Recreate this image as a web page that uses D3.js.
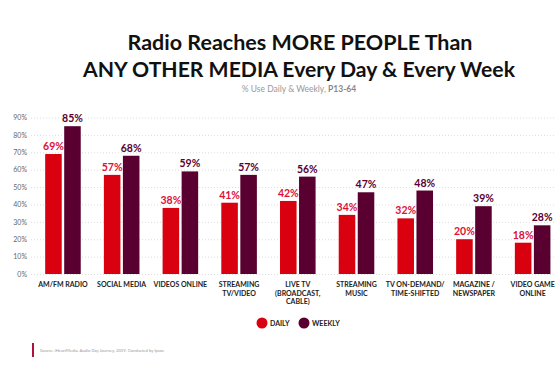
<!DOCTYPE html>
<html>
<head>
<meta charset="utf-8">
<script src="https://cdn.jsdelivr.net/npm/d3@7"></script>
<style>
  body { margin: 0; background: #fff; }
  svg { display: block; font-family: "Lato", "Open Sans", sans-serif; }
</style>
</head>
<body>
<script>
// chart data
var categories = ["AM/FM RADIO", "SOCIAL MEDIA", "VIDEOS ONLINE", "STREAMING TV/VIDEO",
  "LIVE TV (BROADCAST, CABLE)", "STREAMING MUSIC", "TV ON-DEMAND/ TIME-SHIFTED",
  "MAGAZINE / NEWSPAPER", "VIDEO GAME ONLINE"];
var labelLines = [["AM/FM RADIO"], ["SOCIAL MEDIA"], ["VIDEOS ONLINE"], ["STREAMING", "TV/VIDEO"],
  ["LIVE TV", "(BROADCAST,", "CABLE)"], ["STREAMING", "MUSIC"], ["TV ON-DEMAND/", "TIME-SHIFTED"],
  ["MAGAZINE /", "NEWSPAPER"], ["VIDEO GAME", "ONLINE"]];
var daily = [69, 57, 38, 41, 42, 34, 32, 20, 18];
var weekly = [85, 68, 59, 57, 56, 47, 48, 39, 28];
var series = ["DAILY", "WEEKLY"];
var yTicks = [0, 10, 20, 30, 40, 50, 60, 70, 80, 90];

var W = 560, H = 365;
var colors = {DAILY: "#d9000f", WEEKLY: "#5a0030"};
var labelColors = {DAILY: "#dc1038", WEEKLY: "#5a0030"};

var svg = d3.select("body").append("svg")
    .attr("width", W)
    .attr("height", H);

// title
svg.append("text")
    .attr("x", 300).attr("y", 50)
    .attr("text-anchor", "middle")
    .attr("font-size", 21).attr("font-weight", "bold").attr("fill", "#111")
    .attr("textLength", 345).attr("lengthAdjust", "spacingAndGlyphs")
    .text("Radio Reaches MORE PEOPLE Than");
svg.append("text")
    .attr("x", 299).attr("y", 77)
    .attr("text-anchor", "middle")
    .attr("font-size", 21).attr("font-weight", "bold").attr("fill", "#111")
    .attr("textLength", 432).attr("lengthAdjust", "spacingAndGlyphs")
    .text("ANY OTHER MEDIA Every Day & Every Week");

var sub = svg.append("text")
    .attr("x", 299).attr("y", 92)
    .attr("text-anchor", "middle")
    .attr("font-size", 8.5).attr("fill", "#999");
sub.append("tspan").text("% Use Daily & Weekly, ");
sub.append("tspan").attr("font-weight", "bold").attr("fill", "#888").text("P13-64");

// scales
var y = d3.scaleLinear().domain([0, 90]).range([274, 117.5]);
var x0 = d3.scaleBand().domain(categories).range([42.7, 552.9]).paddingInner(0.31).paddingOuter(0);
var x1 = d3.scaleBand().domain(series).range([0, x0.bandwidth()]).padding(0.13);

// grid and y axis
var yAxis = d3.axisLeft(y).tickValues(yTicks).tickSize(0).tickPadding(0)
    .tickFormat(function(d) { return d + "%"; });
var ga = svg.append("g").attr("transform", "translate(27,0)").call(yAxis);
ga.select(".domain").remove();
ga.selectAll("text").attr("font-size", 7).attr("fill", "#666").attr("font-family", "Lato, sans-serif");

svg.append("g").selectAll("line")
    .data(yTicks)
  .enter().append("line")
    .attr("x1", 31).attr("x2", 556)
    .attr("y1", function(d) { return y(d) + 0.5; })
    .attr("y2", function(d) { return y(d) + 0.5; })
    .attr("stroke", "#ddd")
    .attr("stroke-width", 1)
    .attr("stroke-dasharray", "1,2");

// bars
var rows = categories.map(function(c, i) {
  return {cat: c, vals: [{s: "DAILY", v: daily[i]}, {s: "WEEKLY", v: weekly[i]}]};
});

var group = svg.selectAll(".grp")
    .data(rows)
  .enter().append("g")
    .attr("class", "grp")
    .attr("transform", function(d) { return "translate(" + x0(d.cat) + ",0)"; });

group.selectAll("rect")
    .data(function(d) { return d.vals; })
  .enter().append("rect")
    .attr("x", function(d) { return x1(d.s); })
    .attr("y", function(d) { return y(d.v); })
    .attr("width", x1.bandwidth())
    .attr("height", function(d) { return y(0) - y(d.v); })
    .attr("fill", function(d) { return colors[d.s]; });

group.selectAll(".val")
    .data(function(d) { return d.vals; })
  .enter().append("text")
    .attr("class", "val")
    .attr("x", function(d) { return x1(d.s) + x1.bandwidth() / 2; })
    .attr("y", function(d) { return y(d.v) - 4; })
    .attr("text-anchor", "middle")
    .attr("font-size", 10.5).attr("font-weight", "bold")
    .attr("fill", function(d) { return labelColors[d.s]; })
    .text(function(d) { return d.v + "%"; });

// category labels
svg.selectAll(".cat")
    .data(categories)
  .enter().append("text")
    .attr("class", "cat")
    .attr("text-anchor", "middle")
    .attr("font-size", 7).attr("font-weight", "bold").attr("fill", "#222")
    .each(function(d, i) {
      var t = d3.select(this);
      labelLines[i].forEach(function(l, j) {
        t.append("tspan")
          .attr("x", x0(d) + x0.bandwidth() / 2)
          .attr("y", 287 + j * 8.5)
          .text(l);
      });
    });

// legend
var leg = svg.selectAll(".leg")
    .data(series)
  .enter().append("g")
    .attr("class", "leg")
    .attr("transform", function(d, i) { return "translate(" + (262 + i * 42) + ",323)"; });
leg.append("circle").attr("r", 5.5).attr("fill", function(d) { return colors[d]; });
leg.append("text")
    .attr("x", 8).attr("y", 2.5)
    .attr("font-size", 7).attr("font-weight", "bold").attr("fill", "#222")
    .text(function(d) { return d; });

// source
svg.append("rect").attr("x", 32).attr("y", 343).attr("width", 2).attr("height", 14).attr("fill", "#b0103a");
svg.append("text")
    .attr("x", 40).attr("y", 352)
    .attr("font-size", 4.2).attr("fill", "#999")
    .text("Source: iHeartMedia, Audio Day Journey, 2019, Conducted by Ipsos");
</script>
</body>
</html>
